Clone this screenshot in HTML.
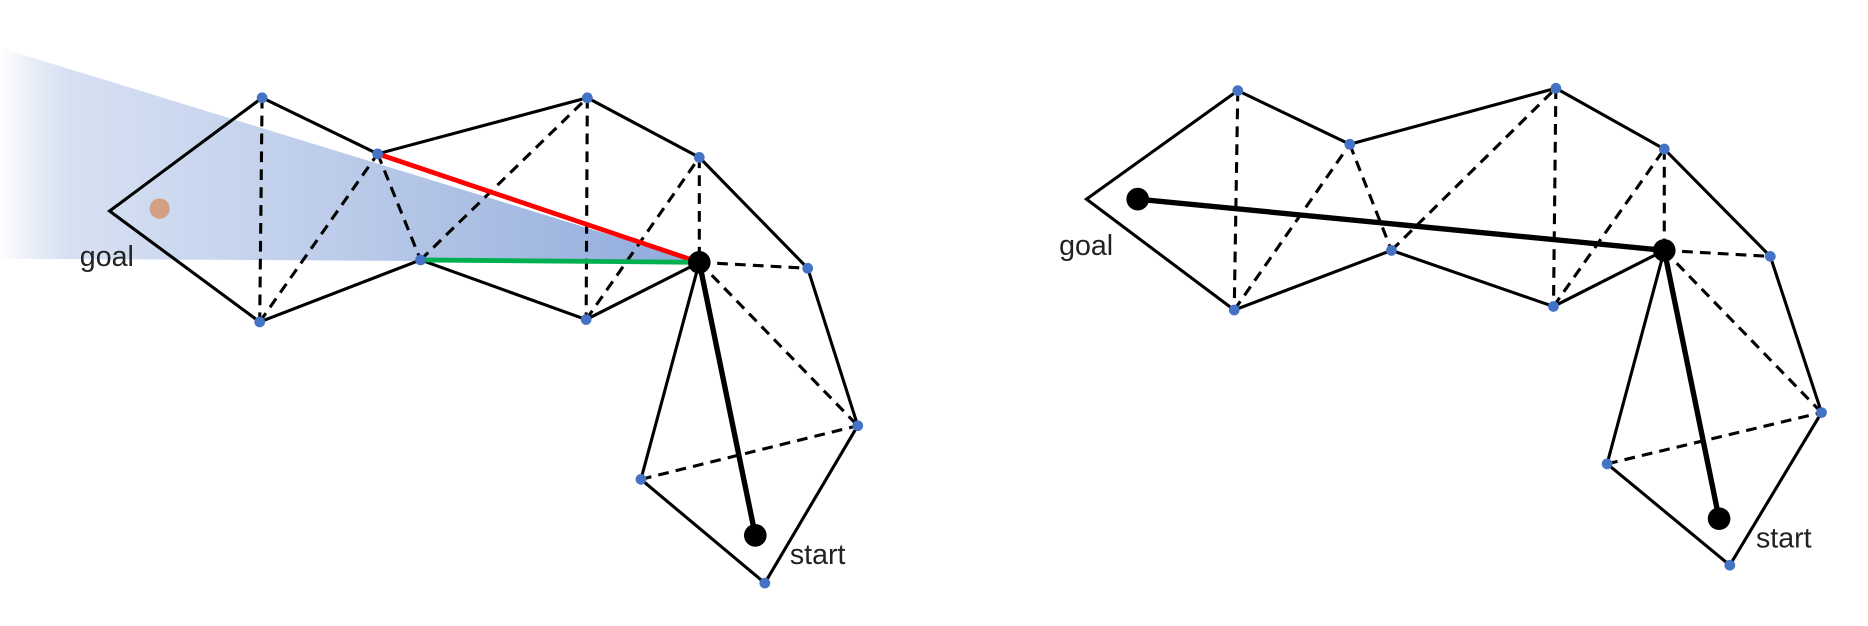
<!DOCTYPE html>
<html><head><style>html,body{margin:0;padding:0;background:#fff}svg{display:block}</style></head>
<body>
<svg width="1868" height="626" viewBox="0 0 1568 525" preserveAspectRatio="none" xmlns="http://www.w3.org/2000/svg">
<defs>
<linearGradient id="g" x1="0" y1="0" x2="1" y2="0" gradientUnits="objectBoundingBox">
<stop offset="0" stop-color="#b4c6e7" stop-opacity="0"/>
<stop offset="0.1" stop-color="#c9d6ee" stop-opacity="0.75"/>
<stop offset="1" stop-color="#8ea9db"/>
</linearGradient>
</defs>
<polygon points="0,40 587,220 0,217" fill="url(#g)"/>
<g stroke="#000" stroke-width="2.6" fill="none">
<polyline points="220,82 92,177 218,270"/>
<line x1="220" y1="82" x2="317" y2="129"/>
<line x1="317" y1="129" x2="493" y2="82"/>
<line x1="218" y1="270" x2="353" y2="218"/>
<line x1="353" y1="218" x2="492" y2="268"/>
<line x1="493" y1="82" x2="587" y2="132"/>
<line x1="492" y1="268" x2="587" y2="220"/>
<line x1="587" y1="132" x2="678" y2="225"/>
<line x1="678" y1="225" x2="720" y2="357"/>
<line x1="587" y1="220" x2="538" y2="402"/>
<line x1="538" y1="402" x2="642" y2="489"/>
<line x1="720" y1="357" x2="642" y2="489"/>
<g stroke-dasharray="9,6">
<line x1="220" y1="82" x2="218" y2="270"/>
<line x1="218" y1="270" x2="317" y2="129"/>
<line x1="317" y1="129" x2="353" y2="218"/>
<line x1="353" y1="218" x2="493" y2="82"/>
<line x1="493" y1="82" x2="492" y2="268"/>
<line x1="492" y1="268" x2="587" y2="132"/>
<line x1="587" y1="132" x2="587" y2="220"/>
<line x1="587" y1="220" x2="678" y2="225"/>
<line x1="587" y1="220" x2="720" y2="357"/>
<line x1="538" y1="402" x2="720" y2="357"/>
</g>
<line x1="587" y1="220" x2="634" y2="449" stroke-width="4.5"/>
<polyline points="1039,76 912,167 1036,260"/>
<line x1="1039" y1="76" x2="1133" y2="121"/>
<line x1="1133" y1="121" x2="1306" y2="74"/>
<line x1="1036" y1="260" x2="1168" y2="210"/>
<line x1="1168" y1="210" x2="1304" y2="257"/>
<line x1="1306" y1="74" x2="1397" y2="125"/>
<line x1="1304" y1="257" x2="1397" y2="210"/>
<line x1="1397" y1="125" x2="1486" y2="215"/>
<line x1="1486" y1="215" x2="1529" y2="346"/>
<line x1="1397" y1="210" x2="1349" y2="389"/>
<line x1="1349" y1="389" x2="1452" y2="474"/>
<line x1="1529" y1="346" x2="1452" y2="474"/>
<g stroke-dasharray="9,6">
<line x1="1039" y1="76" x2="1036" y2="260"/>
<line x1="1036" y1="260" x2="1133" y2="121"/>
<line x1="1133" y1="121" x2="1168" y2="210"/>
<line x1="1168" y1="210" x2="1306" y2="74"/>
<line x1="1306" y1="74" x2="1304" y2="257"/>
<line x1="1304" y1="257" x2="1397" y2="125"/>
<line x1="1397" y1="125" x2="1397" y2="210"/>
<line x1="1397" y1="210" x2="1486" y2="215"/>
<line x1="1397" y1="210" x2="1529" y2="346"/>
<line x1="1349" y1="389" x2="1529" y2="346"/>
</g>
<line x1="955" y1="167" x2="1397" y2="210" stroke-width="4.5"/>
<line x1="1397" y1="210" x2="1443" y2="435" stroke-width="4.5"/>
</g>
<line x1="317" y1="129" x2="587" y2="220" stroke="#ff0000" stroke-width="4"/>
<line x1="353" y1="218" x2="587" y2="220" stroke="#00b050" stroke-width="4"/>
<g fill="#4472c4">
<circle cx="220" cy="82" r="4.5"/><circle cx="218" cy="270" r="4.5"/><circle cx="317" cy="129" r="4.5"/><circle cx="353" cy="218" r="4.5"/><circle cx="493" cy="82" r="4.5"/><circle cx="492" cy="268" r="4.5"/><circle cx="587" cy="132" r="4.5"/><circle cx="678" cy="225" r="4.5"/><circle cx="720" cy="357" r="4.5"/><circle cx="538" cy="402" r="4.5"/><circle cx="642" cy="489" r="4.5"/>
<circle cx="1039" cy="76" r="4.5"/><circle cx="1036" cy="260" r="4.5"/><circle cx="1133" cy="121" r="4.5"/><circle cx="1168" cy="210" r="4.5"/><circle cx="1306" cy="74" r="4.5"/><circle cx="1304" cy="257" r="4.5"/><circle cx="1397" cy="125" r="4.5"/><circle cx="1486" cy="215" r="4.5"/><circle cx="1529" cy="346" r="4.5"/><circle cx="1349" cy="389" r="4.5"/><circle cx="1452" cy="474" r="4.5"/>
</g>
<g fill="#000">
<circle cx="587" cy="220" r="9.5"/><circle cx="634" cy="449" r="9.5"/>
<circle cx="955" cy="167" r="9.5"/><circle cx="1397" cy="210" r="9.5"/><circle cx="1443" cy="435" r="9.5"/>
</g>
<circle cx="134" cy="175" r="8.5" fill="#d4a085"/>
<g font-family="Liberation Sans, sans-serif" font-size="24" fill="#222">
<text x="67" y="223">goal</text><text x="663" y="473">start</text>
<text x="889" y="214">goal</text><text x="1474" y="459">start</text>
</g>
</svg>
</body></html>
